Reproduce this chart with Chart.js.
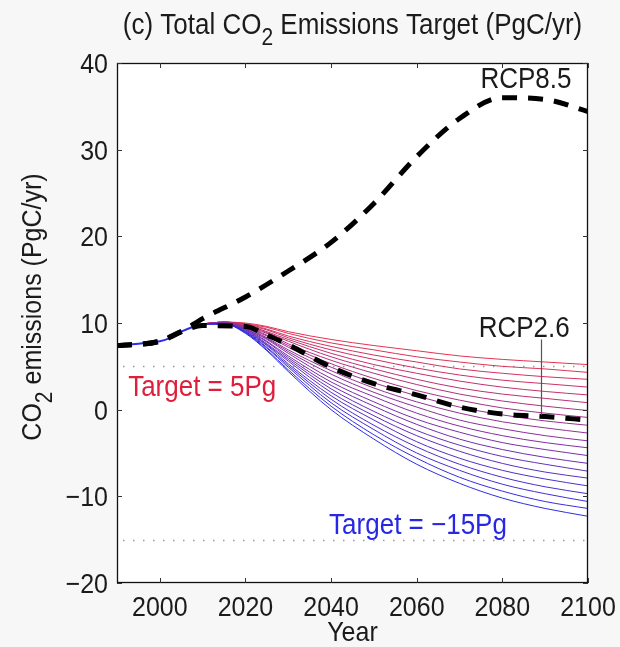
<!DOCTYPE html>
<html>
<head>
<meta charset="utf-8">
<script src="https://cdn.jsdelivr.net/npm/chart.js@4.4.1/dist/chart.umd.min.js"></script>
<style>
html,body{margin:0;padding:0;background:#f7f7f7;}
#c{display:block;}
</style>
</head>
<body>
<canvas id="c" width="620" height="647"></canvas>
<script>
// ---------------- DATA ----------------
const X_TICKS = [2000, 2020, 2040, 2060, 2080, 2100];
const Y_TICKS = [-20, -10, 0, 10, 20, 30, 40];

const HIST_YEARS  = [1990, 1995, 2000, 2002, 2005, 2008, 2010];
const HIST_VALUES = [7.4, 7.6, 7.9, 8.2, 9.0, 9.6, 9.9];

const RCP85_YEARS  = [1990, 2000, 2005, 2010, 2020, 2030, 2040, 2050, 2060, 2070, 2080, 2090, 2100];
const RCP85_VALUES = [7.4, 7.9, 9.0, 10.5, 13.0, 16.0, 19.3, 23.8, 29.2, 33.6, 36.0, 35.8, 34.4];

const RCP26_YEARS  = [1990, 2000, 2005, 2010, 2020, 2025, 2030, 2040, 2050, 2060, 2070, 2080, 2090, 2100];
const RCP26_VALUES = [7.4, 7.9, 9.0, 9.7, 9.6, 8.6, 7.5, 4.9, 3.0, 1.7, 0.3, -0.5, -0.8, -1.2];

const FAN_YEARS = [2010, 2015, 2020, 2025, 2030, 2040, 2050, 2060, 2070, 2080, 2090, 2100];
const target_p5  = [9.9, 10.1, 10.0, 9.6, 9.0, 8.1, 7.4, 6.8, 6.2, 5.8, 5.5, 5.2];
const target_p4  = [9.9, 10.1, 9.9, 9.5, 8.8, 7.7, 6.9, 6.1, 5.5, 5.0, 4.7, 4.3];
const target_p3  = [9.9, 10.1, 9.9, 9.3, 8.5, 7.3, 6.3, 5.5, 4.7, 4.2, 3.8, 3.5];
const target_p2  = [9.9, 10.1, 9.8, 9.2, 8.3, 6.9, 5.8, 4.8, 4.0, 3.4, 3.0, 2.6];
const target_p1  = [9.9, 10.1, 9.8, 9.0, 8.1, 6.5, 5.2, 4.2, 3.3, 2.6, 2.1, 1.7];
const target_0   = [9.9, 10.1, 9.7, 8.9, 7.9, 6.1, 4.7, 3.5, 2.5, 1.8, 1.3, 0.8];
const target_m1  = [9.9, 10.1, 9.6, 8.8, 7.6, 5.7, 4.2, 2.9, 1.8, 1.0, 0.4, -0.1];
const target_m2  = [9.9, 10.0, 9.6, 8.6, 7.4, 5.3, 3.6, 2.2, 1.1, 0.2, -0.4, -0.9];
const target_m3  = [9.9, 10.0, 9.5, 8.5, 7.2, 4.9, 3.1, 1.6, 0.3, -0.6, -1.3, -1.8];
const target_m4  = [9.9, 10.0, 9.5, 8.3, 6.9, 4.5, 2.5, 0.9, -0.4, -1.4, -2.1, -2.7];
const target_m5  = [9.9, 10.0, 9.4, 8.2, 6.7, 4.1, 2.0, 0.3, -1.2, -2.2, -3.0, -3.6];
const target_m6  = [9.9, 10.0, 9.3, 8.1, 6.5, 3.6, 1.5, -0.4, -1.9, -3.0, -3.8, -4.4];
const target_m7  = [9.9, 10.0, 9.3, 7.9, 6.2, 3.2, 0.9, -1.1, -2.6, -3.8, -4.6, -5.3];
const target_m8  = [9.9, 10.0, 9.2, 7.8, 6.0, 2.8, 0.4, -1.7, -3.4, -4.6, -5.5, -6.2];
const target_m9  = [9.9, 9.9, 9.2, 7.6, 5.8, 2.4, -0.2, -2.4, -4.1, -5.4, -6.3, -7.1];
const target_m10 = [9.9, 9.9, 9.1, 7.5, 5.6, 2.0, -0.7, -3.0, -4.8, -6.2, -7.2, -7.9];
const target_m11 = [9.9, 9.9, 9.0, 7.4, 5.3, 1.6, -1.2, -3.7, -5.6, -7.0, -8.0, -8.8];
const target_m12 = [9.9, 9.9, 9.0, 7.2, 5.1, 1.2, -1.8, -4.3, -6.3, -7.8, -8.9, -9.7];
const target_m13 = [9.9, 9.9, 8.9, 7.1, 4.9, 0.8, -2.3, -5.0, -7.0, -8.6, -9.7, -10.6];
const target_m14 = [9.9, 9.9, 8.9, 6.9, 4.6, 0.4, -2.9, -5.6, -7.8, -9.4, -10.6, -11.4];
const target_m15 = [9.9, 9.9, 8.8, 6.8, 4.4, 0.0, -3.4, -6.3, -8.5, -10.2, -11.4, -12.3];

const FAN_SERIES = [target_p5, target_p4, target_p3, target_p2, target_p1, target_0,
  target_m1, target_m2, target_m3, target_m4, target_m5, target_m6, target_m7, target_m8,
  target_m9, target_m10, target_m11, target_m12, target_m13, target_m14, target_m15];

const TARGET_LINES = [5, -15];

// ---------------- TEXT STYLE ----------------
const FAMILY = '"Liberation Sans", Arial, Helvetica, sans-serif';
const FS = 25;          // tick label font size, px
const FS_T = 26;        // title / annotation font size, px
const SY = 1.12;        // vertical stretch of glyphs (reference glyphs are taller)
const TXT = '#1b1b1b';
function cap(size){ return 0.716 * size * SY; }

function fmtTick(v){ return v < 0 ? '\u2212' + Math.abs(v) : String(v); }

// draw text whose baseline is at y, with vertical stretch
function sText(ctx, text, x, y, align, size){
  ctx.save();
  ctx.font = (size || FS) + 'px ' + FAMILY;
  ctx.textAlign = align || 'left';
  ctx.textBaseline = 'alphabetic';
  ctx.translate(x, y);
  ctx.scale(1, SY);
  ctx.fillText(text, 0, 0);
  ctx.restore();
}
// parts: [text, isSub]; centred around x, baseline y (in current transform)
function subText(ctx, parts, x, y, size){
  const SUB = Math.round(size * 0.82);
  let total = 0;
  const widths = parts.map(p => {
    ctx.font = (p[1] ? SUB : size) + 'px ' + FAMILY;
    const w = ctx.measureText(p[0]).width; total += w; return w;
  });
  let cx = x - total / 2;
  parts.forEach((p, i) => {
    sText(ctx, p[0], cx, y + (p[1] ? 11 : 0), 'left', p[1] ? SUB : size);
    cx += widths[i];
  });
}

function pts(xs, ys){ return xs.map((x, i) => ({x: x, y: ys[i]})); }
function lerpColor(t){
  const a = [232, 50, 80], b = [45, 45, 232];
  const c = a.map((v, i) => Math.round(v + (b[i] - v) * t));
  return 'rgb(' + c.join(',') + ')';
}

const datasets = [];
datasets.push({label: 'RCP8.5', data: pts(RCP85_YEARS, RCP85_VALUES), borderColor: '#000',
  borderWidth: 5, borderDash: [15, 11], pointRadius: 0, cubicInterpolationMode: 'monotone', fill: false});
datasets.push({label: 'RCP2.6', data: pts(RCP26_YEARS, RCP26_VALUES), borderColor: '#000',
  borderWidth: 5, borderDash: [15, 11], pointRadius: 0, cubicInterpolationMode: 'monotone', fill: false});
datasets.push({label: 'history', data: pts(HIST_YEARS, HIST_VALUES), borderColor: 'rgb(45,45,232)',
  borderWidth: 2, pointRadius: 0, cubicInterpolationMode: 'monotone', fill: false});
for (let k = FAN_SERIES.length - 1; k >= 0; k--) {
  datasets.push({label: 'target ' + k, data: pts(FAN_YEARS, FAN_SERIES[k]),
    borderColor: lerpColor(k / (FAN_SERIES.length - 1)), borderWidth: 1, pointRadius: 0,
    cubicInterpolationMode: 'monotone', fill: false});
}

// ---------------- PLUGIN ----------------
const deco = {
  id: 'deco',
  beforeDraw(chart){
    const {ctx, chartArea: a} = chart;
    ctx.save();
    ctx.fillStyle = '#f7f7f7';
    ctx.fillRect(0, 0, chart.width, chart.height);
    ctx.fillStyle = '#ffffff';
    ctx.fillRect(a.left, a.top, a.right - a.left, a.bottom - a.top);
    ctx.restore();
  },
  beforeDatasetsDraw(chart){
    const {ctx, chartArea: a, scales: {y}} = chart;
    ctx.save();
    ctx.strokeStyle = '#9a9a9a';
    ctx.lineWidth = 1.5;
    ctx.setLineDash([1.5, 8.5]);
    TARGET_LINES.forEach(v => {
      const py = Math.round(y.getPixelForValue(v)) + 0.5;
      ctx.beginPath(); ctx.moveTo(a.left + 6, py); ctx.lineTo(a.right, py); ctx.stroke();
    });
    ctx.restore();
  },
  afterDraw(chart){
    const {ctx, chartArea: a, scales: {x, y}} = chart;
    ctx.save();
    // frame
    ctx.strokeStyle = '#111';
    ctx.lineWidth = 1.3;
    ctx.strokeRect(a.left + 0.5, a.top + 0.5, a.right - a.left - 1, a.bottom - a.top - 1);
    // inward ticks
    ctx.lineWidth = 1;
    ctx.strokeStyle = '#333';
    const tl = 5;
    x.ticks.forEach(t => {
      const px = Math.round(x.getPixelForValue(t.value)) + 0.5;
      ctx.beginPath();
      ctx.moveTo(px, a.bottom); ctx.lineTo(px, a.bottom - tl);
      ctx.moveTo(px, a.top); ctx.lineTo(px, a.top + tl);
      ctx.stroke();
    });
    y.ticks.forEach(t => {
      const py = Math.round(y.getPixelForValue(t.value)) + 0.5;
      ctx.beginPath();
      ctx.moveTo(a.left, py); ctx.lineTo(a.left + tl, py);
      ctx.moveTo(a.right, py); ctx.lineTo(a.right - tl, py);
      ctx.stroke();
    });

    ctx.fillStyle = TXT;
    // tick labels
    x.ticks.forEach(t => {
      sText(ctx, fmtTick(t.value), x.getPixelForValue(t.value), 616, 'center', FS);
    });
    y.ticks.forEach(t => {
      sText(ctx, fmtTick(t.value), a.left - 9, y.getPixelForValue(t.value) + cap(FS) / 2, 'right', FS);
    });

    // title
    subText(ctx, [['(c) Total CO', false], ['2', true], [' Emissions Target (PgC/yr)', false]],
      (a.left + a.right) / 2, 34, FS_T);
    // x title
    sText(ctx, 'Year', (a.left + a.right) / 2, 641, 'center', FS);
    // y title
    ctx.save();
    ctx.translate(41, 307);
    ctx.rotate(-Math.PI / 2);
    subText(ctx, [['CO', false], ['2', true], [' emissions (PgC/yr)', false]], 0, 0, FS);
    ctx.restore();

    // annotations
    ctx.fillStyle = TXT;
    sText(ctx, 'RCP8.5', x.getPixelForValue(2085.5), y.getPixelForValue(38.3) + cap(FS_T) / 2, 'center', FS_T);
    sText(ctx, 'RCP2.6', x.getPixelForValue(2085.1), y.getPixelForValue(9.6) + cap(FS_T) / 2, 'center', FS_T);
    // leader line
    ctx.strokeStyle = '#555';
    ctx.lineWidth = 1.2;
    const lx = Math.round(x.getPixelForValue(2089)) + 0.5;
    ctx.beginPath();
    ctx.moveTo(lx, y.getPixelForValue(8.1));
    ctx.lineTo(lx, y.getPixelForValue(-0.6));
    ctx.stroke();

    ctx.fillStyle = 'rgb(222,30,58)';
    sText(ctx, 'Target = 5Pg', x.getPixelForValue(2009.9), y.getPixelForValue(2.8) + cap(FS_T) / 2, 'center', FS_T);
    ctx.fillStyle = 'rgb(40,40,228)';
    sText(ctx, 'Target = \u221215Pg', x.getPixelForValue(2060.3), y.getPixelForValue(-13.1) + cap(FS_T) / 2, 'center', FS_T);
    ctx.restore();
  }
};

new Chart(document.getElementById('c'), {
  type: 'line',
  data: {datasets: datasets},
  options: {
    responsive: false,
    animation: false,
    events: [],
    layout: {padding: {top: 63, right: 32, left: 0, bottom: 0}},
    plugins: {legend: {display: false}, tooltip: {enabled: false}, title: {display: false}},
    scales: {
      x: {
        type: 'linear', min: 1990, max: 2100,
        grid: {display: false}, border: {display: false},
        afterBuildTicks: s => { s.ticks = X_TICKS.map(v => ({value: v})); },
        afterFit: s => { s.height = 64; },
        ticks: {display: false}
      },
      y: {
        type: 'linear', min: -20, max: 40,
        grid: {display: false}, border: {display: false},
        afterBuildTicks: s => { s.ticks = Y_TICKS.map(v => ({value: v})); },
        afterFit: s => { s.width = 117; },
        ticks: {display: false}
      }
    }
  },
  plugins: [deco]
});
</script>
</body>
</html>
